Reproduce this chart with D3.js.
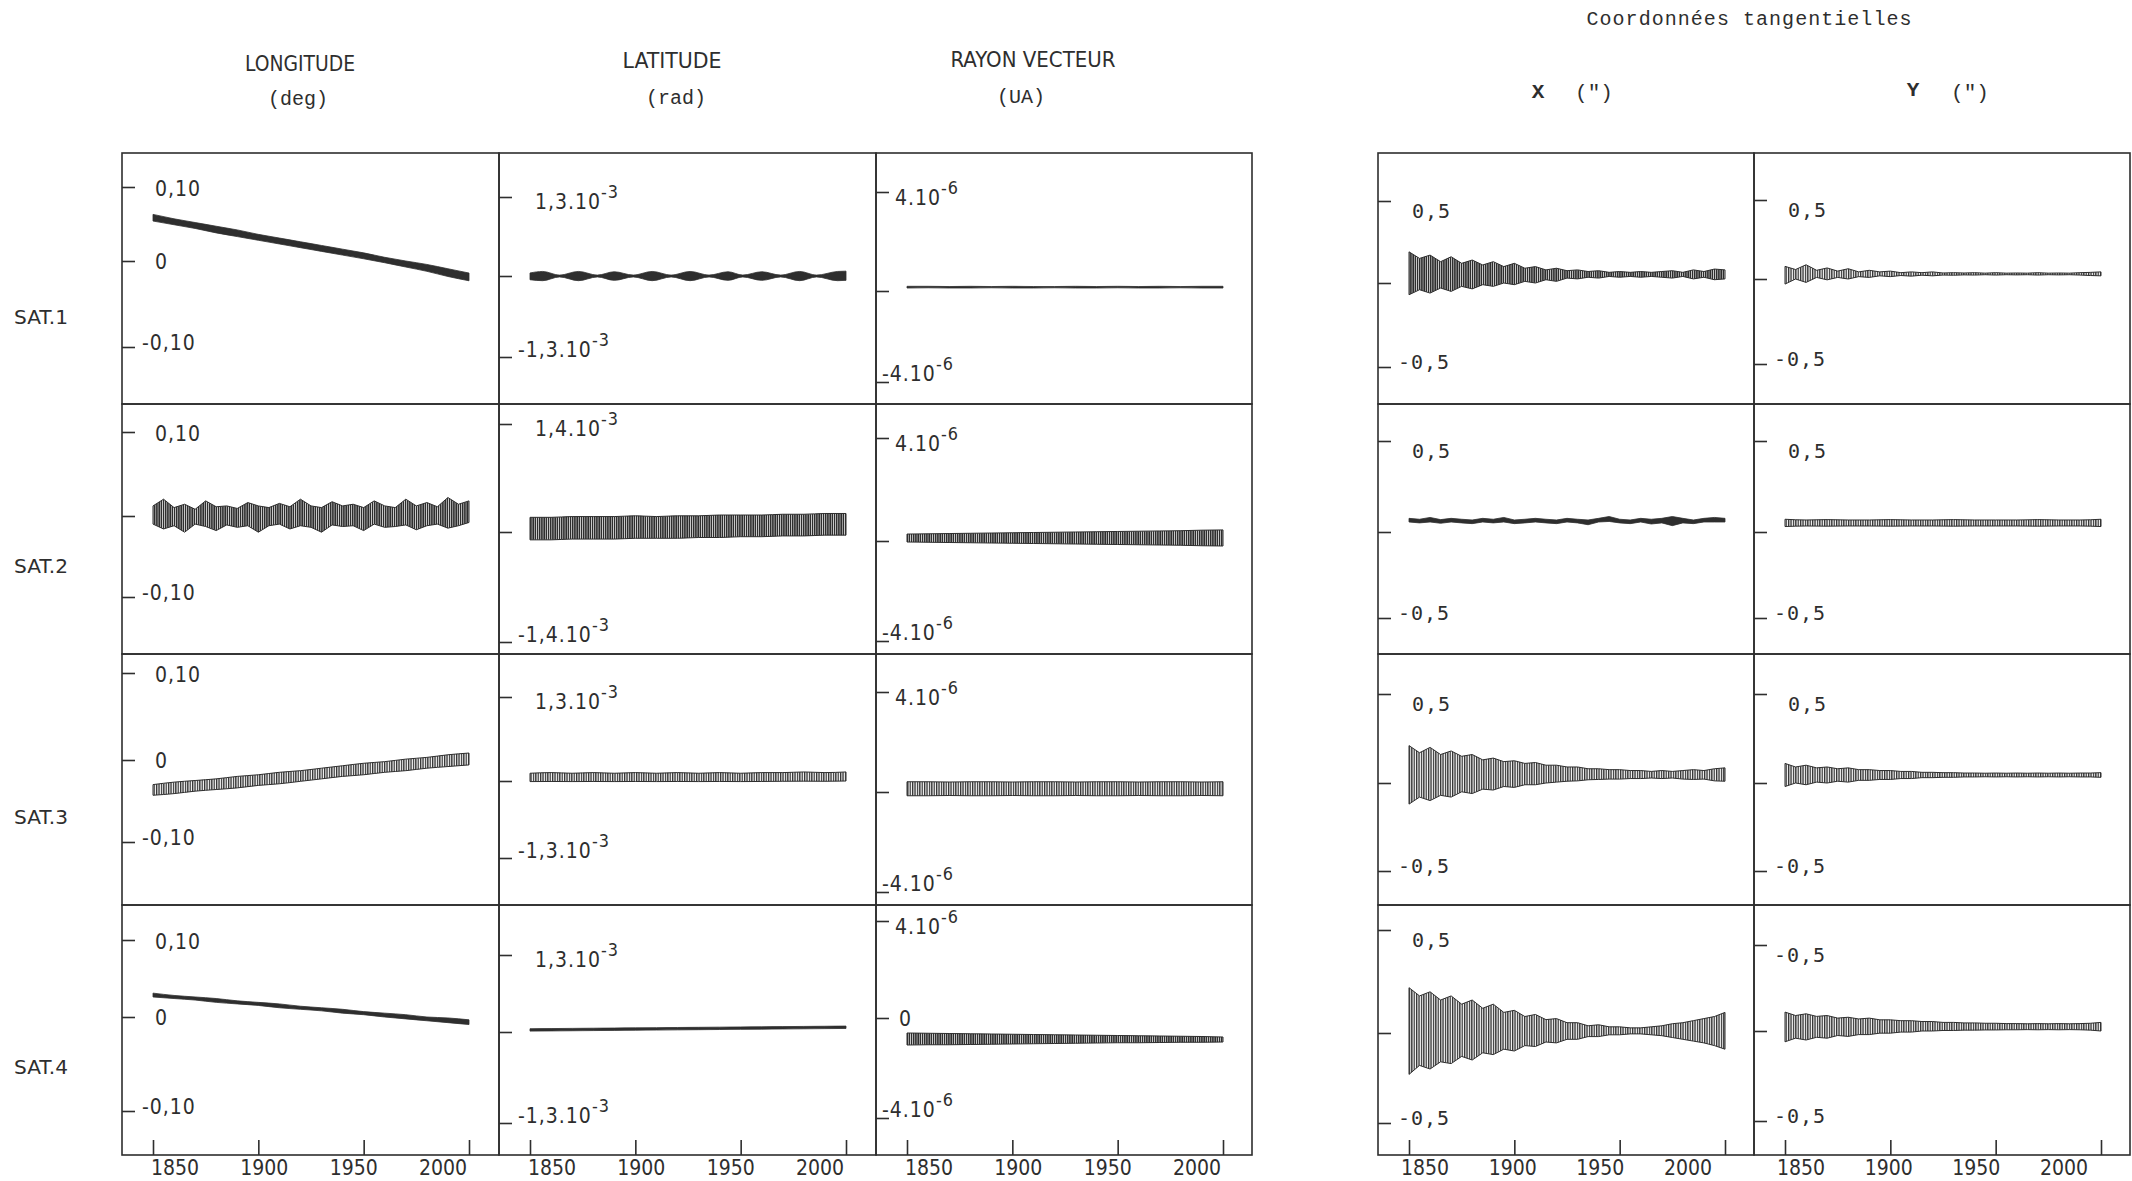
<!DOCTYPE html>
<html><head><meta charset="utf-8">
<script src="https://cdn.jsdelivr.net/npm/d3@7"></script>
<style>
html,body{margin:0;padding:0;background:#fff;}
svg{display:block;}
</style></head><body>
<svg id="chart" width="2132" height="1181"></svg>
<script>
// ================= DATA =================
const satellites = ["SAT.1", "SAT.2", "SAT.3", "SAT.4"];
const quantities = ["LONGITUDE", "LATITUDE", "RAYON VECTEUR", "X", "Y"];
const units = ["(deg)", "(rad)", "(UA)", "(\")", "(\")"];
const groupTitle = "Coordonnées   tangentielles";
const xTickYears = [1850, 1900, 1950, 2000];
const xTickLabels = ["1850", "1900", "1950", "2000"];

// sampling years of the read envelopes
const years = [1850, 1860, 1870, 1880, 1890, 1900, 1910, 1920, 1930, 1940, 1950, 1960, 1970, 1980, 1990, 2000];
const years5 = [1850, 1855, 1860, 1865, 1870, 1875, 1880, 1885, 1890, 1895, 1900, 1905, 1910, 1915, 1920, 1925, 1930, 1935, 1940, 1945, 1950, 1955, 1960, 1965, 1970, 1975, 1980, 1985, 1990, 1995, 2000];
const beadYears = [1850, 1856, 1864, 1873, 1882, 1890, 1899, 1908, 1917, 1926, 1935, 1944, 1951, 1960, 1969, 1978, 1986, 1996, 2000];

// y tick values (longitude deg, latitude 1e-3 rad, radius 1e-6 UA, tangential arcsec)
const lonTicks = [0.10, 0, -0.10];
const latTicks = [1.3, 0, -1.3];
const latTicksSat2 = [1.4, 0, -1.4];
const rayTicks = [4, 0, -4];
const tanTicks = [0.5, 0, -0.5];

// tick label texts ("^" introduces the exponent)
const sat1TickLabels = [["0,10", "0", "-0,10"], ["1,3.10^-3", "", "-1,3.10^-3"], ["4.10^-6", "", "-4.10^-6"], ["0,5", "", "-0,5"], ["0,5", "", "-0,5"]];
const sat2TickLabels = [["0,10", "", "-0,10"], ["1,4.10^-3", "", "-1,4.10^-3"], ["4.10^-6", "", "-4.10^-6"], ["0,5", "", "-0,5"], ["0,5", "", "-0,5"]];
const sat3TickLabels = [["0,10", "0", "-0,10"], ["1,3.10^-3", "", "-1,3.10^-3"], ["4.10^-6", "", "-4.10^-6"], ["0,5", "", "-0,5"], ["0,5", "", "-0,5"]];
const sat4TickLabels = [["0,10", "0", "-0,10"], ["1,3.10^-3", "", "-1,3.10^-3"], ["4.10^-6", "0", "-4.10^-6"], ["0,5", "", "-0,5"], ["-0,5", "", "-0,5"]];

// ---- SAT.1 (upper / lower envelope of the plotted residuals) ----
const sat1LonUpper = [0.063, 0.057, 0.052, 0.047, 0.042, 0.036, 0.031, 0.026, 0.021, 0.016, 0.011, 0.005, 0.000, -0.004, -0.009, -0.014];
const sat1LonLower = [0.054, 0.049, 0.044, 0.038, 0.033, 0.028, 0.023, 0.018, 0.013, 0.008, 0.003, -0.002, -0.007, -0.012, -0.018, -0.023];
const sat1LatUpper = [0.05, 0.075, 0.015, 0.075, 0.015, 0.07, 0.015, 0.075, 0.015, 0.075, 0.015, 0.07, 0.015, 0.07, 0.015, 0.075, 0.015, 0.075, 0.08];
const sat1LatLower = [-0.06, -0.075, -0.015, -0.075, -0.015, -0.07, -0.015, -0.075, -0.015, -0.075, -0.015, -0.07, -0.015, -0.07, -0.015, -0.075, -0.015, -0.075, -0.07];
const sat1RayUpper = [0.19, 0.19, 0.18, 0.19, 0.18, 0.19, 0.18, 0.18, 0.19, 0.18, 0.19, 0.18, 0.19, 0.18, 0.19, 0.19];
const sat1RayLower = [0.12, 0.13, 0.12, 0.12, 0.13, 0.12, 0.12, 0.13, 0.12, 0.12, 0.13, 0.12, 0.12, 0.13, 0.12, 0.12];
const sat1XUpper = [0.19, 0.15, 0.17, 0.13, 0.16, 0.12, 0.14, 0.11, 0.13, 0.10, 0.12, 0.09, 0.10, 0.08, 0.09, 0.075, 0.08, 0.07, 0.075, 0.065, 0.07, 0.065, 0.07, 0.065, 0.07, 0.075, 0.065, 0.08, 0.07, 0.085, 0.08];
const sat1XLower = [-0.07, -0.04, -0.06, -0.03, -0.05, -0.02, -0.035, -0.01, -0.02, 0.0, -0.01, 0.01, 0.0, 0.02, 0.01, 0.03, 0.025, 0.035, 0.03, 0.04, 0.035, 0.04, 0.035, 0.04, 0.035, 0.03, 0.04, 0.025, 0.035, 0.02, 0.025];
const sat1YUpper = [0.08, 0.06, 0.09, 0.055, 0.07, 0.05, 0.065, 0.045, 0.055, 0.045, 0.05, 0.04, 0.045, 0.04, 0.045, 0.038, 0.04, 0.038, 0.04, 0.037, 0.04, 0.037, 0.038, 0.037, 0.04, 0.037, 0.038, 0.037, 0.04, 0.042, 0.045];
const sat1YLower = [-0.03, 0.0, -0.02, 0.01, -0.005, 0.01, 0.0, 0.015, 0.01, 0.02, 0.015, 0.022, 0.018, 0.024, 0.02, 0.025, 0.024, 0.026, 0.025, 0.027, 0.025, 0.027, 0.026, 0.027, 0.025, 0.027, 0.026, 0.027, 0.025, 0.022, 0.02];

// ---- SAT.2 ----
const sat2LonUpper = [0.012, 0.02, 0.01, 0.014, 0.008, 0.018, 0.011, 0.012, 0.009, 0.016, 0.012, 0.01, 0.015, 0.011, 0.02, 0.012, 0.01, 0.017, 0.012, 0.014, 0.01, 0.018, 0.012, 0.01, 0.02, 0.012, 0.016, 0.011, 0.022, 0.014, 0.018];
const sat2LonLower = [-0.01, -0.016, -0.012, -0.02, -0.01, -0.013, -0.018, -0.011, -0.014, -0.012, -0.02, -0.012, -0.01, -0.016, -0.012, -0.014, -0.02, -0.011, -0.013, -0.012, -0.018, -0.01, -0.014, -0.013, -0.011, -0.017, -0.012, -0.01, -0.015, -0.012, -0.008];
const sat2LatUpper = [0.19, 0.19, 0.20, 0.20, 0.20, 0.21, 0.20, 0.21, 0.21, 0.22, 0.22, 0.22, 0.23, 0.23, 0.24, 0.24];
const sat2LatLower = [-0.10, -0.10, -0.09, -0.09, -0.09, -0.08, -0.08, -0.08, -0.07, -0.07, -0.06, -0.06, -0.05, -0.05, -0.04, -0.04];
const sat2RayUpper = [0.27, 0.28, 0.29, 0.30, 0.31, 0.32, 0.33, 0.34, 0.35, 0.36, 0.37, 0.38, 0.39, 0.40, 0.42, 0.43];
const sat2RayLower = [-0.04, -0.05, -0.06, -0.07, -0.08, -0.09, -0.10, -0.11, -0.12, -0.13, -0.14, -0.15, -0.16, -0.17, -0.19, -0.20];
const sat2XUpper = [0.075, 0.07, 0.08, 0.068, 0.075, 0.07, 0.066, 0.075, 0.07, 0.08, 0.066, 0.07, 0.075, 0.07, 0.066, 0.075, 0.07, 0.066, 0.075, 0.085, 0.07, 0.066, 0.075, 0.07, 0.075, 0.085, 0.075, 0.066, 0.075, 0.08, 0.075];
const sat2XLower = [0.055, 0.05, 0.055, 0.048, 0.055, 0.05, 0.046, 0.055, 0.05, 0.055, 0.046, 0.05, 0.055, 0.05, 0.046, 0.055, 0.05, 0.04, 0.055, 0.058, 0.05, 0.046, 0.055, 0.044, 0.05, 0.035, 0.05, 0.046, 0.055, 0.055, 0.055];
const sat2YUpper = [0.070, 0.066, 0.068, 0.066, 0.066, 0.068, 0.066, 0.066, 0.068, 0.066, 0.066, 0.066, 0.068, 0.066, 0.066, 0.070];
const sat2YLower = [0.030, 0.033, 0.032, 0.033, 0.033, 0.032, 0.033, 0.033, 0.032, 0.033, 0.033, 0.033, 0.032, 0.033, 0.033, 0.030];

// ---- SAT.3 ----
const sat3LonUpper = [-0.030, -0.027, -0.025, -0.023, -0.020, -0.018, -0.015, -0.013, -0.010, -0.007, -0.004, -0.002, 0.001, 0.003, 0.006, 0.008];
const sat3LonLower = [-0.043, -0.041, -0.038, -0.036, -0.034, -0.031, -0.029, -0.026, -0.023, -0.020, -0.018, -0.015, -0.013, -0.010, -0.008, -0.006];
const sat3LatUpper = [0.12, 0.13, 0.12, 0.13, 0.12, 0.13, 0.12, 0.13, 0.12, 0.13, 0.12, 0.13, 0.13, 0.14, 0.13, 0.14];
const sat3LatLower = [-0.010, -0.008, -0.010, -0.008, -0.010, -0.008, -0.010, -0.008, -0.010, -0.008, -0.010, -0.008, -0.005, -0.003, -0.005, 0.000];
const sat3RayUpper = [0.41, 0.41, 0.40, 0.41, 0.41, 0.40, 0.41, 0.41, 0.40, 0.41, 0.41, 0.40, 0.41, 0.41, 0.40, 0.41];
const sat3RayLower = [-0.15, -0.15, -0.14, -0.15, -0.15, -0.14, -0.15, -0.15, -0.14, -0.15, -0.15, -0.14, -0.15, -0.15, -0.14, -0.15];
const sat3XUpper = [0.21, 0.17, 0.2, 0.16, 0.18, 0.15, 0.16, 0.13, 0.14, 0.12, 0.125, 0.11, 0.115, 0.1, 0.1, 0.09, 0.09, 0.08, 0.08, 0.075, 0.075, 0.07, 0.07, 0.065, 0.07, 0.065, 0.07, 0.075, 0.07, 0.08, 0.085];
const sat3XLower = [-0.12, -0.08, -0.1, -0.07, -0.08, -0.05, -0.06, -0.035, -0.04, -0.02, -0.025, -0.01, -0.01, 0.0, 0.005, 0.01, 0.012, 0.018, 0.02, 0.022, 0.022, 0.025, 0.025, 0.028, 0.025, 0.028, 0.022, 0.02, 0.022, 0.012, 0.01];
const sat3YUpper = [0.11, 0.09, 0.1, 0.085, 0.09, 0.08, 0.085, 0.075, 0.075, 0.07, 0.07, 0.065, 0.065, 0.06, 0.06, 0.058, 0.058, 0.056, 0.056, 0.055, 0.056, 0.055, 0.056, 0.055, 0.056, 0.055, 0.056, 0.055, 0.056, 0.056, 0.058];
const sat3YLower = [-0.02, 0.0, -0.01, 0.005, 0.0, 0.01, 0.005, 0.015, 0.015, 0.02, 0.02, 0.025, 0.025, 0.03, 0.03, 0.032, 0.032, 0.034, 0.034, 0.035, 0.034, 0.035, 0.034, 0.035, 0.034, 0.035, 0.034, 0.035, 0.034, 0.034, 0.032];

// ---- SAT.4 ----
const sat4LonUpper = [0.031, 0.028, 0.026, 0.024, 0.021, 0.019, 0.017, 0.014, 0.012, 0.010, 0.007, 0.005, 0.003, 0.000, -0.001, -0.003];
const sat4LonLower = [0.026, 0.024, 0.022, 0.019, 0.017, 0.015, 0.012, 0.010, 0.008, 0.005, 0.003, 0.000, -0.002, -0.004, -0.006, -0.008];
const sat4LatUpper = [0.055, 0.058, 0.061, 0.064, 0.067, 0.070, 0.073, 0.076, 0.079, 0.082, 0.085, 0.088, 0.091, 0.094, 0.097, 0.100];
const sat4LatLower = [0.015, 0.018, 0.021, 0.024, 0.027, 0.030, 0.033, 0.036, 0.039, 0.042, 0.045, 0.048, 0.051, 0.054, 0.057, 0.060];
const sat4RayUpper = [-0.60, -0.61, -0.62, -0.63, -0.64, -0.65, -0.66, -0.67, -0.68, -0.69, -0.70, -0.71, -0.72, -0.73, -0.74, -0.76];
const sat4RayLower = [-1.08, -1.07, -1.07, -1.06, -1.05, -1.04, -1.03, -1.02, -1.01, -1.00, -0.99, -0.99, -0.98, -0.97, -0.97, -0.96];
const sat4XUpper = [0.22, 0.18, 0.2, 0.16, 0.18, 0.14, 0.16, 0.12, 0.14, 0.1, 0.11, 0.08, 0.09, 0.065, 0.07, 0.05, 0.05, 0.035, 0.04, 0.03, 0.03, 0.025, 0.025, 0.03, 0.035, 0.045, 0.05, 0.06, 0.07, 0.08, 0.1];
const sat4XLower = [-0.23, -0.18, -0.2, -0.16, -0.17, -0.13, -0.15, -0.11, -0.12, -0.09, -0.1, -0.07, -0.075, -0.05, -0.055, -0.035, -0.035, -0.02, -0.02, -0.01, -0.01, -0.005, -0.005, -0.01, -0.015, -0.025, -0.035, -0.045, -0.055, -0.07, -0.09];
const sat4YUpper = [0.11, 0.09, 0.1, 0.085, 0.09, 0.075, 0.08, 0.07, 0.075, 0.065, 0.065, 0.06, 0.06, 0.055, 0.055, 0.05, 0.05, 0.047, 0.047, 0.045, 0.045, 0.043, 0.043, 0.042, 0.043, 0.042, 0.043, 0.042, 0.043, 0.045, 0.05];
const sat4YLower = [-0.06, -0.04, -0.05, -0.035, -0.04, -0.025, -0.03, -0.02, -0.02, -0.012, -0.012, -0.006, -0.006, 0.0, 0.0, 0.003, 0.003, 0.005, 0.005, 0.006, 0.006, 0.007, 0.007, 0.008, 0.007, 0.008, 0.007, 0.008, 0.007, 0.005, 0.0];

// ================= LAYOUT / STYLE =================
const colLeft = [122, 499, 876, 1378, 1754];
const colRight = [499, 876, 1252, 1754, 2130];
const rowTop = [153, 404, 654, 905];
const rowBottom = [404, 654, 905, 1155];
// pixel offsets (from the panel top) of the three y ticks [top, zero, bottom]
const tickPixels = [
  [[34, 108, 194], [44, 123, 204], [39, 138, 229], [48, 130, 214], [47, 126, 211]],
  [[28, 112, 193], [20, 128, 238], [34, 137, 237], [37, 128, 214], [37, 128, 214]],
  [[19, 106, 188], [43, 127, 204], [38, 138, 238], [40, 129, 217], [40, 129, 217]],
  [[35, 112, 206], [50, 127, 218], [16, 113, 213], [25, 128, 218], [40, 126, 216]]
];
const bandStyle = [
  ["solid", "solid", "solid", "dense", "hatch"],
  ["dense", "dense", "dense", "solid", "hatch"],
  ["hatch", "hatch", "hatch", "hatch", "hatch"],
  ["solid", "solid", "dense", "hatch", "hatch"]
];
const labelDigitStart = [33, 36, 19, 34, 34];
const labelMinusWidth = [13, 17, 13, 14, 14];
const labelDyTop = [1, 4, 5, 10, 10];
const labelDyBottom = [-5, -8, -9, -5, -5];
const ink = "#2e2e2e";

// ================= BUILD =================
const svg = d3.select("#chart");
const defs = svg.append("defs");
const pat = defs.append("pattern").attr("id", "hatch").attr("patternUnits", "userSpaceOnUse")
  .attr("width", 2.4).attr("height", 10);
pat.append("rect").attr("x", 0).attr("y", 0).attr("width", 1.3).attr("height", 10).attr("fill", ink);
const pat2 = defs.append("pattern").attr("id", "dense").attr("patternUnits", "userSpaceOnUse")
  .attr("width", 2.2).attr("height", 10);
pat2.append("rect").attr("x", 0).attr("y", 0).attr("width", 1.6).attr("height", 10).attr("fill", ink);

const series = [
  [[years, sat1LonUpper, sat1LonLower], [beadYears, sat1LatUpper, sat1LatLower], [years, sat1RayUpper, sat1RayLower], [years5, sat1XUpper, sat1XLower], [years5, sat1YUpper, sat1YLower]],
  [[years5, sat2LonUpper, sat2LonLower], [years, sat2LatUpper, sat2LatLower], [years, sat2RayUpper, sat2RayLower], [years5, sat2XUpper, sat2XLower], [years, sat2YUpper, sat2YLower]],
  [[years, sat3LonUpper, sat3LonLower], [years, sat3LatUpper, sat3LatLower], [years, sat3RayUpper, sat3RayLower], [years5, sat3XUpper, sat3XLower], [years5, sat3YUpper, sat3YLower]],
  [[years, sat4LonUpper, sat4LonLower], [years, sat4LatUpper, sat4LatLower], [years, sat4RayUpper, sat4RayLower], [years5, sat4XUpper, sat4XLower], [years5, sat4YUpper, sat4YLower]]
];
const tickLabelRows = [sat1TickLabels, sat2TickLabels, sat3TickLabels, sat4TickLabels];
const tickValueCols = [lonTicks, latTicks, rayTicks, tanTicks, tanTicks];

const condensed = "'DejaVu Sans Condensed', 'Liberation Sans Narrow', 'DejaVu Sans', sans-serif";
const mono = "'DejaVu Sans Mono', 'Liberation Mono', monospace";
const typewriter = "'Liberation Mono', 'Courier New', monospace";

function addLabel(g, str, x, yCenter, size, family) {
  const parts = str.split("^");
  const t = g.append("text").attr("x", x).attr("y", yCenter + size * 0.36)
    .attr("font-family", family).attr("font-size", size).attr("fill", ink)
    .attr("letter-spacing", 1);
  t.append("tspan").text(parts[0]);
  if (parts[1]) t.append("tspan").attr("dy", -size * 0.5).attr("font-size", size * 0.85).text(parts[1]);
  return t;
}

for (let r = 0; r < 4; r++) {
  for (let c = 0; c < 5; c++) {
    const left = colLeft[c], right = colRight[c], top = rowTop[r], bottom = rowBottom[r];
    const g = svg.append("g");
    g.append("rect").attr("x", left).attr("y", top).attr("width", right - left).attr("height", bottom - top)
      .attr("fill", "none").attr("stroke", ink).attr("stroke-width", 1.6);

    const x = d3.scaleLinear().domain([1850, 2000]).range([left + 31, left + 347]);
    const tv = (c === 1 && r === 1) ? latTicksSat2 : tickValueCols[c];
    const tp = tickPixels[r][c];
    const y = d3.scaleLinear().domain(tv).range([top + tp[0], top + tp[1], top + tp[2]]);

    const ax = g.append("g").attr("transform", `translate(${left},0)`)
      .call(d3.axisRight(y).tickValues(tv).tickSize(13).tickFormat(""));
    ax.select(".domain").remove();
    ax.selectAll("line").attr("stroke", ink).attr("stroke-width", 1.6);

    const labs = tickLabelRows[r][c];
    const fam = c >= 3 ? mono : condensed;
    const size = c >= 3 ? 20 : 21;
    labs.forEach((s, i) => {
      if (!s) return;
      const neg = s.charAt(0) === "-";
      const lx = left + labelDigitStart[c] - (neg ? labelMinusWidth[c] : 0) + (i === 1 && c === 2 ? 4 : 0);
      const ly = y(tv[i]) + (i === 0 ? labelDyTop[c] : i === 2 ? labelDyBottom[c] : 0);
      addLabel(g, s, lx, ly, size, fam);
    });

    const [xs, up, lo] = series[r][c];
    const pts = xs.map((yr, i) => ({ yr, u: up[i], l: lo[i] }));
    const style = bandStyle[r][c];
    const area = d3.area().x(d => x(d.yr)).y0(d => y(d.l)).y1(d => y(d.u))
      .curve(xs === years5 ? d3.curveLinear : d3.curveMonotoneX);
    g.append("path").datum(pts).attr("d", area)
      .attr("fill", style === "solid" ? ink : `url(#${style})`)
      .attr("stroke", ink).attr("stroke-width", style === "solid" ? 0.8 : 1.0).attr("stroke-linejoin", "round");

    if (r === 3) {
      const bx = g.append("g").attr("transform", `translate(0,${bottom})`)
        .call(d3.axisTop(x).tickValues(xTickYears).tickSize(15).tickFormat(""));
      bx.select(".domain").remove();
      bx.selectAll("line").attr("stroke", ink).attr("stroke-width", 1.6);
      const lab = c < 3 ? d3.scaleLinear().domain([1850, 2000]).range([left + 53, left + 321])
                        : d3.scaleLinear().domain([1850, 2000]).range([left + 47, left + 310]);
      xTickYears.forEach((yr, i) => {
        g.append("text").attr("x", lab(yr)).attr("y", 1175).attr("text-anchor", "middle")
          .attr("font-family", condensed).attr("font-size", 21).attr("fill", ink)
          .text(xTickLabels[i]);
      });
    }
  }
}

// column headers
const headerX = [300, 672, 1033];
const headerY = [64, 61, 60];
const headerW = [110, 99, 165];
const unitX = [298, 676, 1021];
const unitY = [99, 98, 97];
for (let c = 0; c < 3; c++) {
  svg.append("text").attr("x", headerX[c]).attr("y", headerY[c] + 7).attr("text-anchor", "middle")
    .attr("font-family", condensed).attr("font-size", 21).attr("fill", ink)
    .attr("textLength", headerW[c]).attr("lengthAdjust", "spacingAndGlyphs").text(quantities[c]);
  svg.append("text").attr("x", unitX[c]).attr("y", unitY[c] + 6).attr("text-anchor", "middle")
    .attr("font-family", typewriter).attr("font-size", 20).attr("fill", ink).text(units[c]);
}
svg.append("text").attr("x", 1749).attr("y", 25).attr("text-anchor", "middle")
  .attr("font-family", typewriter).attr("font-size", 20).attr("fill", ink)
  .attr("textLength", 325).attr("lengthAdjust", "spacing").text(groupTitle);
const tanLetterX = [1538, 1913];
const tanUnitX = [1594, 1970];
for (let k = 0; k < 2; k++) {
  svg.append("text").attr("x", tanLetterX[k]).attr("y", 98 - k * 2).attr("text-anchor", "middle")
    .attr("font-family", typewriter).attr("font-size", 21).attr("font-weight", "bold").attr("fill", ink)
    .text(quantities[3 + k]);
  svg.append("text").attr("x", tanUnitX[k]).attr("y", 99).attr("text-anchor", "middle")
    .attr("font-family", typewriter).attr("font-size", 21).attr("fill", ink).text(units[3 + k]);
}
const rowLabelY = [317, 566, 817, 1067];
satellites.forEach((s, i) => {
  svg.append("text").attr("x", 14).attr("y", rowLabelY[i] + 7)
    .attr("font-family", condensed).attr("font-size", 19).attr("fill", ink)
    .attr("textLength", 54).attr("lengthAdjust", "spacingAndGlyphs").text(s);
});
</script>
</body></html>
